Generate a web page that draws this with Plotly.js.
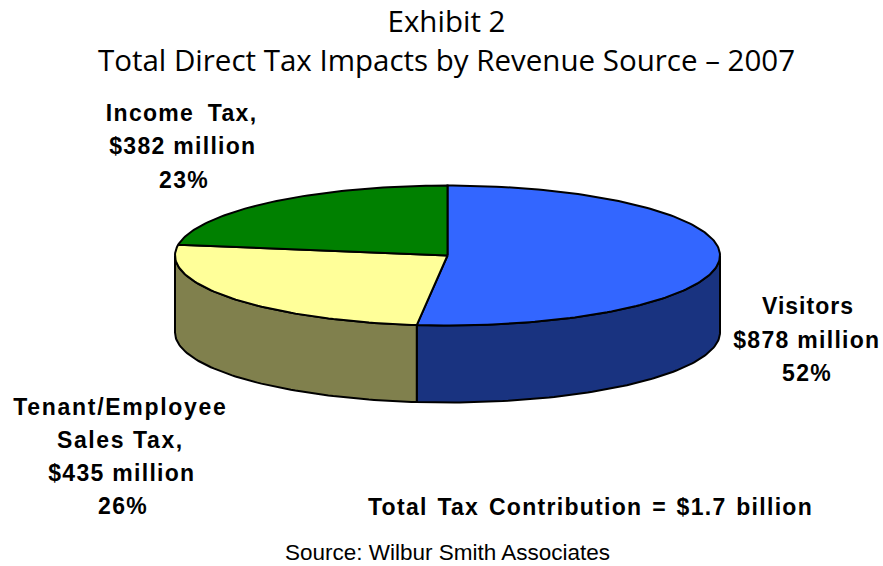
<!DOCTYPE html>
<html>
<head>
<meta charset="utf-8">
<script src="https://cdn.plot.ly/plotly-3.0.1.min.js"></script>
<style>
html,body{margin:0;padding:0;background:#fff;overflow:hidden}
#chart{width:883px;height:566px}
</style>
</head>
<body>
<div id="chart"></div>
<script>
// Data
const categories = ['Visitors', 'Tenant/Employee Sales Tax', 'Income Tax'];
const amounts = [878, 435, 382];           // $ million
const percents = [52, 26, 23];
const topColors = ['#3366FF', '#FFFF99', '#008000'];
const sideColors = ['#193380', '#80804D', '#004000'];

const labelLines = [
  ['Visitors', '$878 million', '52%'],
  ['Tenant/Employee', 'Sales Tax,', '$435 million', '26%'],
  ['Income Tax,', '$382 million', '23%']
];
const totalNote = 'Total Tax Contribution = $1.7 billion';
const sourceNote = 'Source: Wilbur Smith Associates';
const titleText = 'Exhibit 2<br>Total Direct Tax Impacts by Revenue Source – 2007';

// Drawing geometry of the tilted pie (axis units = page pixels)
const pie = {cx: 447.5, cy: 255.5, rx: 272.5, ry: 70, depth: 77};
const labelPos = [
  {x: [808, 807, 807], y: [306, 340, 373]},
  {x: [120, 120, 121.5, 123], y: [407, 440, 473, 506]},
  {x: [181, 183, 184], y: [113, 146, 180]}
];
// text spacing tweaks, [letter px, word px]
const spacingFor = {
  'Tenant/Employee': [1.7, 0],
  'Sales Tax,': [1.6, 0],
  'Income Tax,': [1.3, 6],
  'Visitors': [1.0, 0],
  [totalNote]: [1.3, 2]
};

function pt(a, drop) {
  return [pie.cx + pie.rx * Math.sin(a), pie.cy - pie.ry * Math.cos(a) + (drop || 0)];
}
function arc(a0, a1, drop) {
  const out = [];
  const n = Math.max(2, Math.ceil(Math.abs(a1 - a0) / 0.02));
  for (let i = 0; i <= n; i++) out.push(pt(a0 + (a1 - a0) * i / n, drop));
  return out;
}
function polyTrace(points, fill) {
  return {
    type: 'scatter', mode: 'lines', hoverinfo: 'skip', showlegend: false,
    x: points.map(p => p[0]), y: points.map(p => p[1]),
    fill: 'toself', fillcolor: fill,
    line: {color: '#000000', width: 2, shape: 'linear'}
  };
}

const total = amounts.reduce((s, v) => s + v, 0);
const traces = [];
const topTraces = [];
let start = 0;
amounts.forEach((v, i) => {
  const end = start + v / total * 2 * Math.PI;
  // visible wall: the front half of the rim
  const w0 = Math.max(start, Math.PI / 2), w1 = Math.min(end, 3 * Math.PI / 2);
  if (w1 > w0) {
    const upper = arc(w0, w1, 0);
    const lower = arc(w1, w0, pie.depth);
    const wall = upper.concat(lower);
    wall.push(upper[0]);
    traces.push(polyTrace(wall, sideColors[i]));
  }
  const top = [[pie.cx, pie.cy]].concat(arc(start, end, 0));
  top.push([pie.cx, pie.cy]);
  topTraces.push(polyTrace(top, topColors[i]));
  start = end;
});

const annotations = [];
function addText(text, x, y, font) {
  annotations.push({text, x, y, xref: 'x', yref: 'y', xanchor: 'center', yanchor: 'middle',
    showarrow: false, font});
}
const boldFont = {family: '"Liberation Sans", Arial, sans-serif', size: 23, color: '#000000', weight: 700};
labelLines.forEach((lines, i) => lines.forEach((t, j) => addText(t, labelPos[i].x[j], labelPos[i].y[j], boldFont)));
addText(totalNote, 590, 507, boldFont);
addText(sourceNote, 447, 552, {family: '"Liberation Sans", Arial, sans-serif', size: 22.5, color: '#000000'});

const layout = {
  width: 883, height: 566,
  margin: {l: 0, r: 0, t: 0, b: 0},
  paper_bgcolor: '#ffffff', plot_bgcolor: '#ffffff',
  showlegend: false,
  title: {
    text: titleText, x: 446.5 / 883, xanchor: 'center', y: 0.943, yanchor: 'top',
    font: {family: '"Open Sans", sans-serif', size: 29.5, color: '#000000'}
  },
  xaxis: {visible: false, range: [0, 883], fixedrange: true},
  yaxis: {visible: false, range: [566, 0], fixedrange: true},
  annotations
};

Plotly.newPlot('chart', traces.concat(topTraces), layout, {displayModeBar: false, staticPlot: true})
  .then(() => {
    document.querySelectorAll('.annotation text').forEach(t => {
      const c = t.textContent;
      if (c === sourceNote) return;
      const s = spacingFor[c] || [1.3, 0];
      t.style.letterSpacing = s[0] + 'px';
      t.style.wordSpacing = s[1] + 'px';
    });
  });
</script>
</body>
</html>
